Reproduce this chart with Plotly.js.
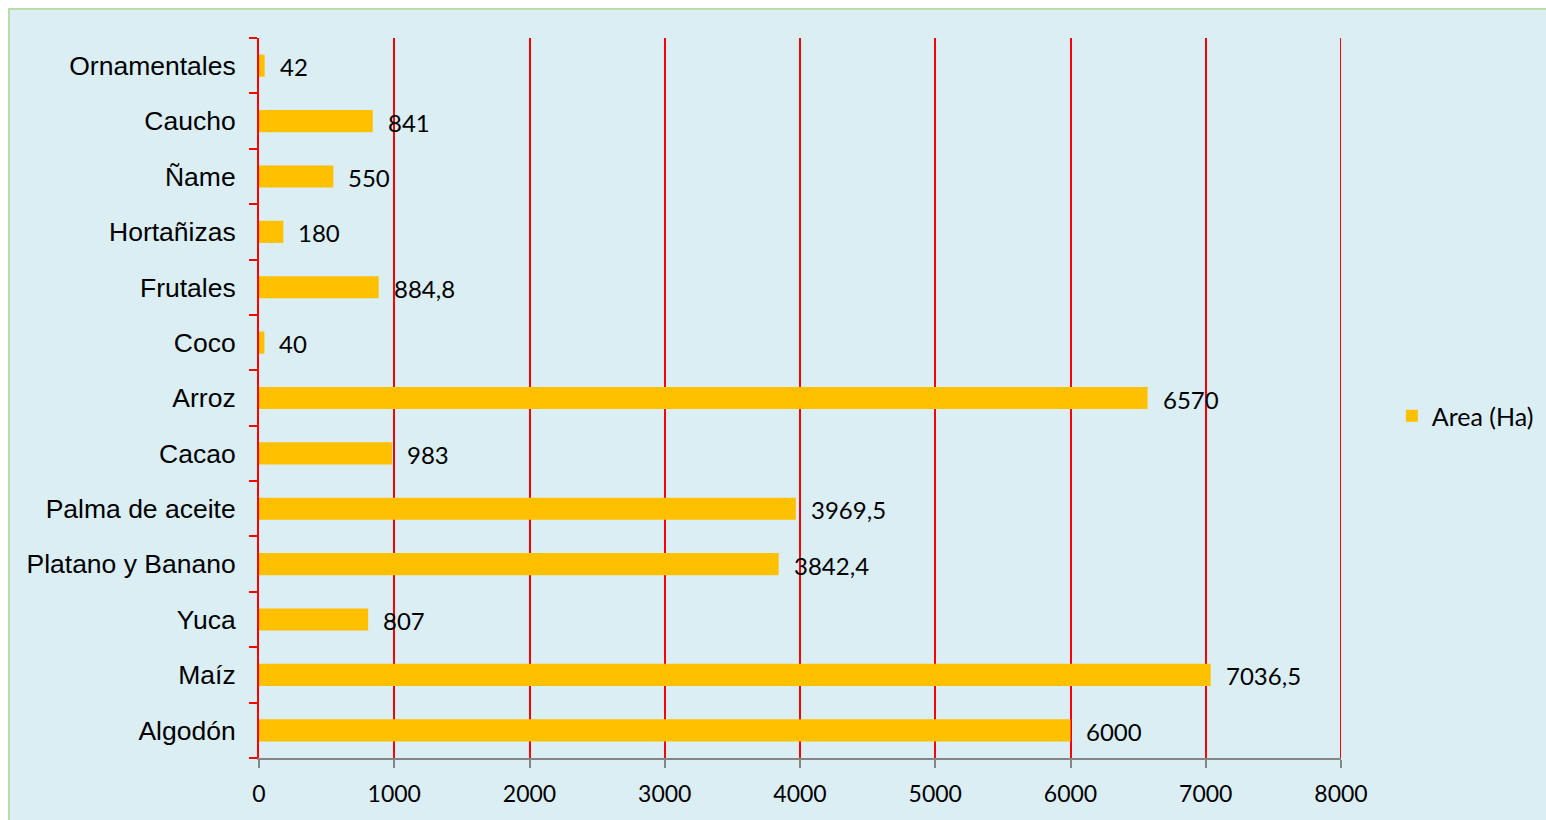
<!DOCTYPE html>
<html>
<head>
<meta charset="utf-8">
<script src="https://cdn.plot.ly/plotly-3.0.1.min.js"></script>
<style>
  html, body { margin: 0; padding: 0; background: #ffffff; }
  #frame { position: absolute; left: 8px; top: 8px; width: 1540px; height: 812px;
           background: #DBEEF4; border-left: 2px solid #B7DDA8; border-top: 2px solid #B7DDA8; }
  #chart { position: absolute; left: 0; top: 0; width: 1546px; height: 820px; }
</style>
</head>
<body>
<div id="frame"></div>
<div id="chart"></div>
<script>
// Data (bottom to top as drawn)
const categories = ["Algodón", "Maíz", "Yuca", "Platano y Banano", "Palma de aceite", "Cacao",
                    "Arroz", "Coco", "Frutales", "Hortañizas", "Ñame", "Caucho", "Ornamentales"];
const areaHa = [6000, 7036.5, 807, 3842.4, 3969.5, 983, 6570, 40, 884.8, 180, 550, 841, 42];
const seriesName = "Area (Ha)";
const xTicks = [0, 1000, 2000, 3000, 4000, 5000, 6000, 7000, 8000];

const labelFont = "Lato, Open Sans, sans-serif";

const annotations = categories.map((c, i) => ({
  x: areaHa[i], y: c, xref: "x", yref: "y",
  text: String(areaHa[i]).replace(".", ","),
  showarrow: false, xanchor: "left", yanchor: "middle", xshift: 13, yshift: -1,
  font: { family: labelFont, size: 24, color: "#000000" }
}));

const trace = {
  type: "bar", orientation: "h",
  x: areaHa, y: categories, name: seriesName,
  marker: { color: "#FFC000" },
  hoverinfo: "x+y"
};

const xMax = xTicks[xTicks.length - 1];

const layout = {
  width: 1546, height: 820,
  margin: { l: 259, r: 205, t: 38, b: 62, pad: 0, autoexpand: false },
  paper_bgcolor: "rgba(0,0,0,0)",
  plot_bgcolor: "rgba(0,0,0,0)",
  bargap: 0.6,
  showlegend: true,
  legend: { x: 1.047, y: 0.475, xanchor: "left", yanchor: "middle",
            font: { family: labelFont, size: 25, color: "#000000" },
            bgcolor: "rgba(0,0,0,0)" },
  xaxis: {
    range: [0, xMax], tickvals: xTicks, ticktext: xTicks.map(String),
    showgrid: true, gridcolor: "#FF0000", gridwidth: 2,
    zeroline: false,
    showline: true, linecolor: "#868686", linewidth: 2,
    ticks: "outside", ticklen: 8, tickwidth: 2, tickcolor: "#868686",
    tickfont: { family: labelFont, size: 23, color: "#000000" },
    ticklabelstandoff: 6,
    fixedrange: true
  },
  yaxis: {
    type: "category", categoryorder: "array", categoryarray: categories,
    showline: true, linecolor: "#FF0000", linewidth: 2,
    ticks: "outside", tickson: "boundaries", ticklen: 8, tickwidth: 2, tickcolor: "#FF0000",
    showgrid: false, zeroline: false,
    tickfont: { family: "Liberation Sans, Arial, sans-serif", size: 26.5, color: "#000000" },
    ticklabelstandoff: 16,
    fixedrange: true
  },
  shapes: [{
    type: "line", xref: "x", yref: "paper", x0: xMax, x1: xMax, y0: 0, y1: 1,
    line: { color: "#FF0000", width: 2 }, layer: "below"
  }],
  annotations: annotations
};

Plotly.newPlot("chart", [trace], layout, { displayModeBar: false, staticPlot: true });
</script>
</body>
</html>
